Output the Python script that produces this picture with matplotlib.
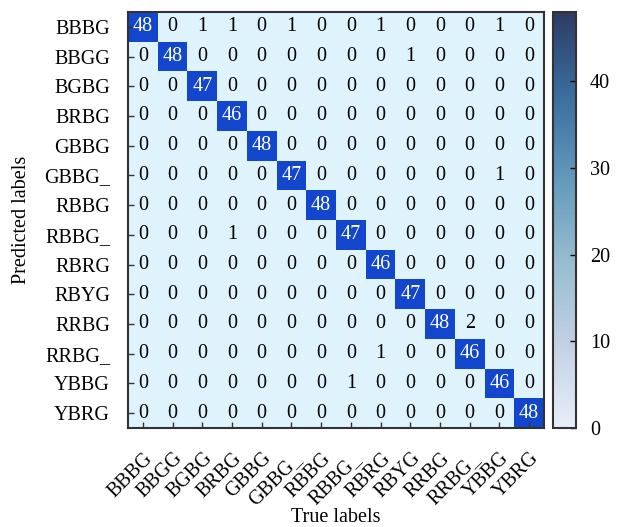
import numpy as np
import matplotlib
matplotlib.use("Agg")
import matplotlib.pyplot as plt
from matplotlib.colors import LinearSegmentedColormap, Normalize
from matplotlib.cm import ScalarMappable
from matplotlib.transforms import ScaledTranslation

plt.rcParams['font.family'] = ['Liberation Serif', 'DejaVu Serif']

labels = ["BBBG", "BBGG", "BGBG", "BRBG", "GBBG", "GBBG_", "RBBG",
          "RBBG_", "RBRG", "RBYG", "RRBG", "RRBG_", "YBBG", "YBRG"]

matrix = np.array([
    [48, 0, 1, 1, 0, 1, 0, 0, 1, 0, 0, 0, 1, 0],
    [0, 48, 0, 0, 0, 0, 0, 0, 0, 1, 0, 0, 0, 0],
    [0, 0, 47, 0, 0, 0, 0, 0, 0, 0, 0, 0, 0, 0],
    [0, 0, 0, 46, 0, 0, 0, 0, 0, 0, 0, 0, 0, 0],
    [0, 0, 0, 0, 48, 0, 0, 0, 0, 0, 0, 0, 0, 0],
    [0, 0, 0, 0, 0, 47, 0, 0, 0, 0, 0, 0, 1, 0],
    [0, 0, 0, 0, 0, 0, 48, 0, 0, 0, 0, 0, 0, 0],
    [0, 0, 0, 1, 0, 0, 0, 47, 0, 0, 0, 0, 0, 0],
    [0, 0, 0, 0, 0, 0, 0, 0, 46, 0, 0, 0, 0, 0],
    [0, 0, 0, 0, 0, 0, 0, 0, 0, 47, 0, 0, 0, 0],
    [0, 0, 0, 0, 0, 0, 0, 0, 0, 0, 48, 2, 0, 0],
    [0, 0, 0, 0, 0, 0, 0, 0, 1, 0, 0, 46, 0, 0],
    [0, 0, 0, 0, 0, 0, 0, 1, 0, 0, 0, 0, 46, 0],
    [0, 0, 0, 0, 0, 0, 0, 0, 0, 0, 0, 0, 0, 48],
])

cbar_ticks = [0, 10, 20, 30, 40]

fig = plt.figure(figsize=(6.24, 5.27), dpi=100)
ax = fig.add_axes([128/624, 99/527, 416/624, 416/527])
cax = fig.add_axes([553/624, 99/527, 23/624, 416/527])

cell_cmap = LinearSegmentedColormap.from_list("cells", ["#dff3fc", "#dff3fc", "#1146cd"], N=256)
cell_colors = np.where(matrix >= 24, 1.0, 0.0)
ax.imshow(cell_colors, cmap=cell_cmap, vmin=0, vmax=1, aspect='auto',
          interpolation='nearest')

n = len(labels)
for i in range(n):
    for j in range(n):
        v = matrix[i, j]
        ax.text(j, i, str(v), ha='center', va='center', fontsize=14.5,
                color='white' if v >= 24 else 'black')

ax.set_xticks(range(n))
ax.set_yticks(range(n))
ax.set_xticklabels(labels, rotation=45, ha='right', va='center',
                   rotation_mode='anchor', fontsize=14.5)
ax.set_yticklabels(labels, fontsize=14.5)
ax.tick_params(direction='in', length=4, width=1, color='#333333')
ax.tick_params(axis='y', pad=13)
ax.tick_params(axis='x', pad=20)
offset = ScaledTranslation(7 / 100, 0, fig.dpi_scale_trans)
for lab in ax.get_xticklabels():
    lab.set_transform(lab.get_transform() + offset)
for s in ax.spines.values():
    s.set_color('#333333')
    s.set_linewidth(1.5)
ax.set_xlabel("True labels", fontsize=14.5)
ax.set_ylabel("Predicted labels", fontsize=14.5)
ax.xaxis.set_label_coords(0.5, -(517 - 428) / 416)
ax.yaxis.set_label_coords(-(128 - 22) / 416, 0.5)
ax.xaxis.label.set_va('center')
ax.yaxis.label.set_va('center')

bar_cmap = LinearSegmentedColormap.from_list(
    "bar", ["#e8eef7", "#c2d1e3", "#97bcd0", "#6299bb", "#3a6e9e", "#2d3b66"])
sm = ScalarMappable(norm=Normalize(vmin=0, vmax=48), cmap=bar_cmap)
cb = fig.colorbar(sm, cax=cax, ticks=cbar_ticks)
cb.ax.tick_params(direction='in', length=4, width=1, labelsize=14.5, pad=10)
cb.outline.set_edgecolor('#333333')
cb.outline.set_linewidth(1.5)

fig.savefig("out.png", dpi=100)
